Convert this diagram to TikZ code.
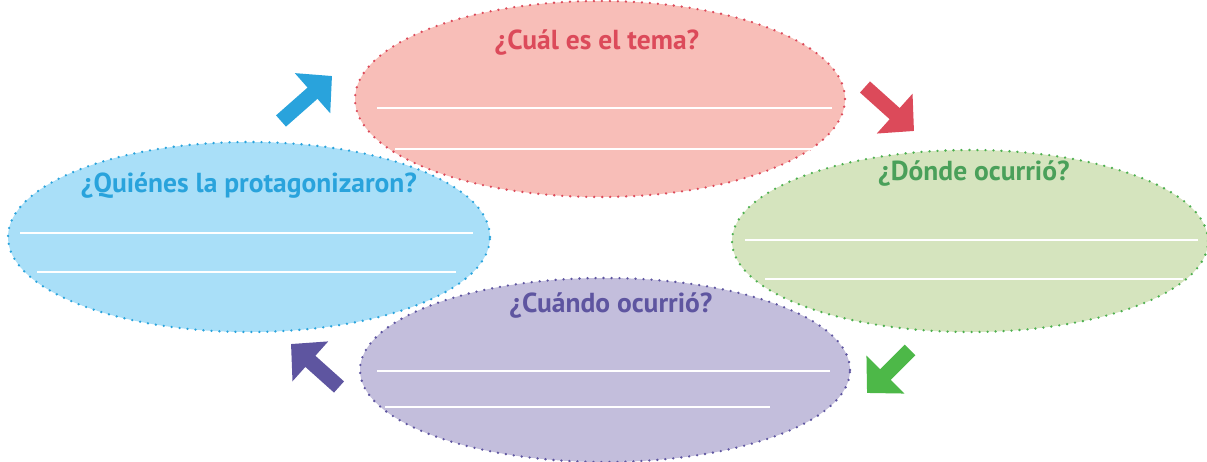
\documentclass[tikz,border=0pt]{standalone}
\usepackage{fontspec}
\setmainfont{PT Sans}
\usetikzlibrary{shapes.geometric,arrows.meta}

\definecolor{redfill}{HTML}{F8BEB8}
\definecolor{redtxt}{HTML}{DC4A5A}
\definecolor{greenfill}{HTML}{D5E4BE}
\definecolor{greentxt}{HTML}{4AA05A}
\definecolor{greendot}{HTML}{4DB04F}
\definecolor{greenarr}{HTML}{4DB848}
\definecolor{bluefill}{HTML}{A9DFF8}
\definecolor{bluetxt}{HTML}{29A3DC}
\definecolor{purplefill}{HTML}{C3BEDC}
\definecolor{purpletxt}{HTML}{5E55A0}

\tikzstyle{bubble} = [ellipse, inner sep=0pt, line width=2.6pt, line cap=round,
  dash pattern=on 0pt off 8pt, preaction={draw=white, solid, line width=6pt}]
\tikzstyle{wline} = [draw=white, line width=1.8pt]
\tikzset{
  title/.style ={font=\fontsize{27.5}{32}\selectfont\bfseries},
  bigarrow/.style ={line width=15pt, -{Triangle[length=26pt, width=52pt]}}
}

\begin{document}
\begin{tikzpicture}[x=1pt, y=-1pt]
 \useasboundingbox (0,0) rectangle (1207,462);
 % the four questions
 \node[bubble, fill=redfill, draw=redtxt, minimum width=490pt, minimum height=196pt] (tema) at (600,99) {};
 \node[bubble, fill=greenfill, draw=greendot, minimum width=476pt, minimum height=182pt] (donde) at (970,241) {};
 \node[bubble, fill=purplefill, draw=purpletxt, minimum width=490pt, minimum height=184pt] (cuando) at (605,370) {};
 \node[bubble, fill=bluefill, draw=bluetxt, minimum width=482pt, minimum height=190pt] (quienes) at (249,237) {};

 \node[title, text=redtxt] (tematxt) at ([shift={(-3,-56)}]tema.center) {¿Cuál es el tema?};
 \node[title, text=greentxt] (dondetxt) at ([shift={(4,-67)}]donde.center) {¿Dónde ocurrió?};
 \node[title, text=purpletxt] (cuandotxt) at ([shift={(6,-64)}]cuando.center) {¿Cuándo ocurrió?};
 \node[title, text=bluetxt] (quienestxt) at ([shift={(0,-51)}]quienes.center) {¿Quiénes la protagonizaron?};

 % writing lines
 \draw[wline] ([shift={(-223,9)}]tema.center) -- ([shift={(232,9)}]tema.center);
 \draw[wline] ([shift={(-205,50)}]tema.center) -- ([shift={(213,50)}]tema.center);
 \draw[wline] ([shift={(-225,-1)}]donde.center) -- ([shift={(228,-1)}]donde.center);
 \draw[wline] ([shift={(-205,38)}]donde.center) -- ([shift={(213,38)}]donde.center);
 \draw[wline] ([shift={(-228,1)}]cuando.center) -- ([shift={(225,1)}]cuando.center);
 \draw[wline] ([shift={(-220,37)}]cuando.center) -- ([shift={(165,37)}]cuando.center);
 \draw[wline] ([shift={(-229,-4)}]quienes.center) -- ([shift={(224,-4)}]quienes.center);
 \draw[wline] ([shift={(-212,35)}]quienes.center) -- ([shift={(207,35)}]quienes.center);

 % arrows between the questions
 \coordinate (a1s) at (281,121);
 \coordinate (a1e) at (332,76);
 \coordinate (a2s) at (865,87);
 \coordinate (a2e) at (914,131);
 \coordinate (a3s) at (910,350);
 \coordinate (a3e) at (867,393);
 \coordinate (a4s) at (339,387);
 \coordinate (a4e) at (291,344);
 \draw[bigarrow, draw=bluetxt, fill=bluetxt] (a1s) -- (a1e);
 \draw[bigarrow, draw=redtxt, fill=redtxt] (a2s) -- (a2e);
 \draw[bigarrow, draw=greenarr, fill=greenarr] (a3s) -- (a3e);
 \draw[bigarrow, draw=purpletxt, fill=purpletxt] (a4s) -- (a4e);
\end{tikzpicture}
\end{document}
